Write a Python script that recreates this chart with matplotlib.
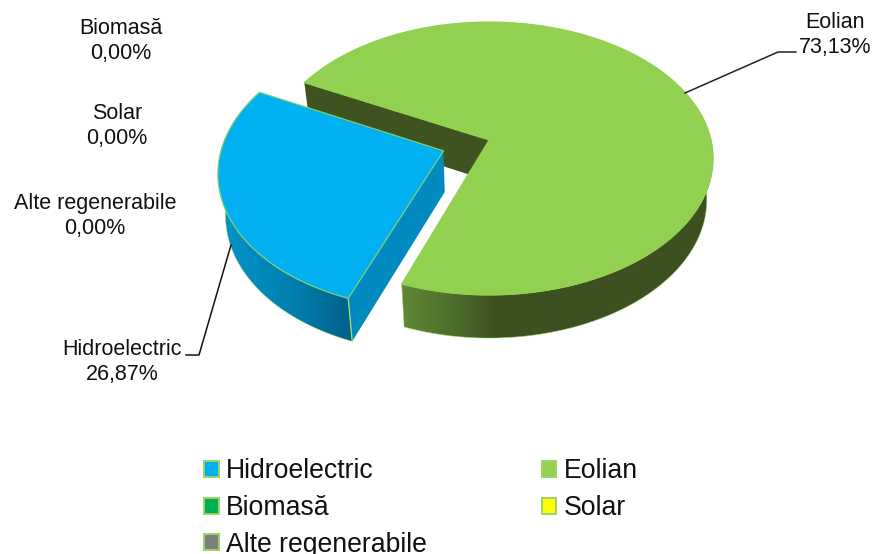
import numpy as np
import matplotlib
matplotlib.use('Agg')
import matplotlib.pyplot as plt
from matplotlib.patches import Patch, Polygon
from matplotlib.colors import LinearSegmentedColormap

# date din grafic
labels = ['Hidroelectric', 'Eolian', 'Biomasă', 'Solar', 'Alte regenerabile']
values = [26.87, 73.13, 0.0, 0.0, 0.0]
colors = ['#00b0f0', '#92d050', '#00b050', '#ffff00', '#7f7f7f']
label_pos = [(122, 362), (835, 35), (121, 41), (117, 126), (95, 216)]

plt.rcParams['font.family'] = ['Liberation Sans', 'DejaVu Sans']

fig = plt.figure(figsize=(8.75, 5.54), dpi=100)
ax = fig.add_axes([0, 0, 1, 1])

# perspectiva discului (in pixeli)
cx, cy = 489, 140
a_right, a_left, b, k = 222, 220, 134, 0.1356
edge = '#a4dc6a'


def top(x, y):
    x = np.asarray(x, dtype=float)
    y = np.asarray(y, dtype=float)
    w = 1 + k * y
    a = np.where(x < 0, a_left, a_right)
    return cx + a * x / w, cy - b * y / w


def bottom(x, y):
    x = np.asarray(x, dtype=float)
    y = np.asarray(y, dtype=float)
    w = 1 + k * y
    a = np.where(x < 0, a_left, a_right)
    return cx + 0.972 * a * x / w, cy - b * y / w + 41 / w ** 0.33


def arc(t1, t2, off, n=200):
    t = np.radians(np.linspace(t1, t2, n))
    return off[0] + np.cos(t), off[1] + np.sin(t)


def side(t1, t2, off, cmap, x0, x1):
    # perete lateral: gradient decupat pe conturul peretelui
    xs, ys = arc(t1, t2, off)
    px1, py1 = top(xs, ys)
    px2, py2 = bottom(xs[::-1], ys[::-1])
    pts = np.c_[np.r_[px1, px2], np.r_[py1, py2]]
    grad = np.clip((np.arange(875) - x0) / (x1 - x0), 0, 1).reshape(1, -1)
    im = ax.imshow(grad, cmap=cmap, vmin=0, vmax=1, extent=(0, 875, 554, 0), aspect='auto', zorder=2)
    im.set_clip_path(Polygon(pts, closed=True, transform=ax.transData))
    ax.fill(pts[:, 0], pts[:, 1], facecolor='none', edgecolor=edge, lw=0.5, alpha=0.7, zorder=2)


start = 153
green_sweep = values[1] / 100 * 360
blue_sweep = values[0] / 100 * 360
green_end = start - green_sweep
blue_end = green_end - blue_sweep

mid = np.radians((green_end + blue_end) / 2)
explode = 0.22
off_blue = (explode * np.cos(mid), explode * np.sin(mid))
off_green = (0, 0)

green_wall = LinearSegmentedColormap.from_list('g', ['#5f8636', '#4d6e2c', '#3d5120', '#3d5120'])
blue_wall = LinearSegmentedColormap.from_list('b', ['#0092c8', '#0082b2', '#00648e'])

# peretele din spate al feliei verzi
xs, ys = arc(start, start, off_green, 2)
p1 = top(xs[0], ys[0])
p2 = bottom(xs[0], ys[0])
c2 = bottom(0, 0)
ax.fill([cx, p1[0], p2[0], c2[0]], [cy, p1[1], p2[1], c2[1]], color='#3f5320', lw=0, zorder=1)

# felia verde
side(green_end, 15, off_green, green_wall, 406, 540)
xs, ys = arc(start, green_end, off_green)
px, py = top(xs, ys)
ax.fill(np.r_[cx, px], np.r_[cy, py], facecolor=colors[1], edgecolor=colors[1], lw=0.8, zorder=3)

# felia albastra, scoasa din disc
side(green_end, -195, off_blue, blue_wall, 228, 345)
cxb, cyb = top(off_blue[0], off_blue[1])
xe, ye = arc(green_end, green_end, off_blue, 2)
p1 = top(xe[0], ye[0])
p2 = bottom(xe[0], ye[0])
c2 = bottom(off_blue[0], off_blue[1])
ax.fill([cxb, p1[0], p2[0], c2[0]], [cyb, p1[1], p2[1], c2[1]], color='#008abf', lw=0, zorder=4)
ax.plot([p1[0], p2[0]], [p1[1], p2[1]], color=edge, lw=0.9, zorder=4)
xs, ys = arc(green_end, blue_end, off_blue)
px, py = top(xs, ys)
ax.fill(np.r_[cxb, px], np.r_[cyb, py], facecolor=colors[0], edgecolor='#7ccf78', lw=0.9,
        joinstyle='round', zorder=5)

ax.set_xlim(0, 875)
ax.set_ylim(554, 0)
ax.axis('off')

# etichete
for name, val, (lx, ly) in zip(labels, values, label_pos):
    txt = name + '\n' + f'{val:.2f}'.replace('.', ',') + '%'
    ax.text(lx, ly, txt, ha='center', va='center', fontsize=15.5, color='#111111', linespacing=1.22)

ax.plot([685, 778, 796], [93, 52, 52], color='#222222', lw=1.1, zorder=6)
ax.plot([231, 199, 186], [245, 355, 355], color='#111111', lw=1.1, zorder=6)

# legenda
handles = [Patch(facecolor=c, edgecolor='#9bd564', lw=1.4) for c in colors]
order = [0, 2, 4, 1, 3]
ax.legend([handles[i] for i in order], [labels[i] for i in order], ncol=2, loc='upper left',
          bbox_to_anchor=(204, 458.5), bbox_transform=ax.transData, frameon=False, fontsize=19.2,
          handlelength=0.55, handleheight=0.55, handletextpad=0.28, labelspacing=0.395,
          columnspacing=4.3, borderpad=0, borderaxespad=0, labelcolor='#111111')

fig.savefig('out.png', dpi=100)
